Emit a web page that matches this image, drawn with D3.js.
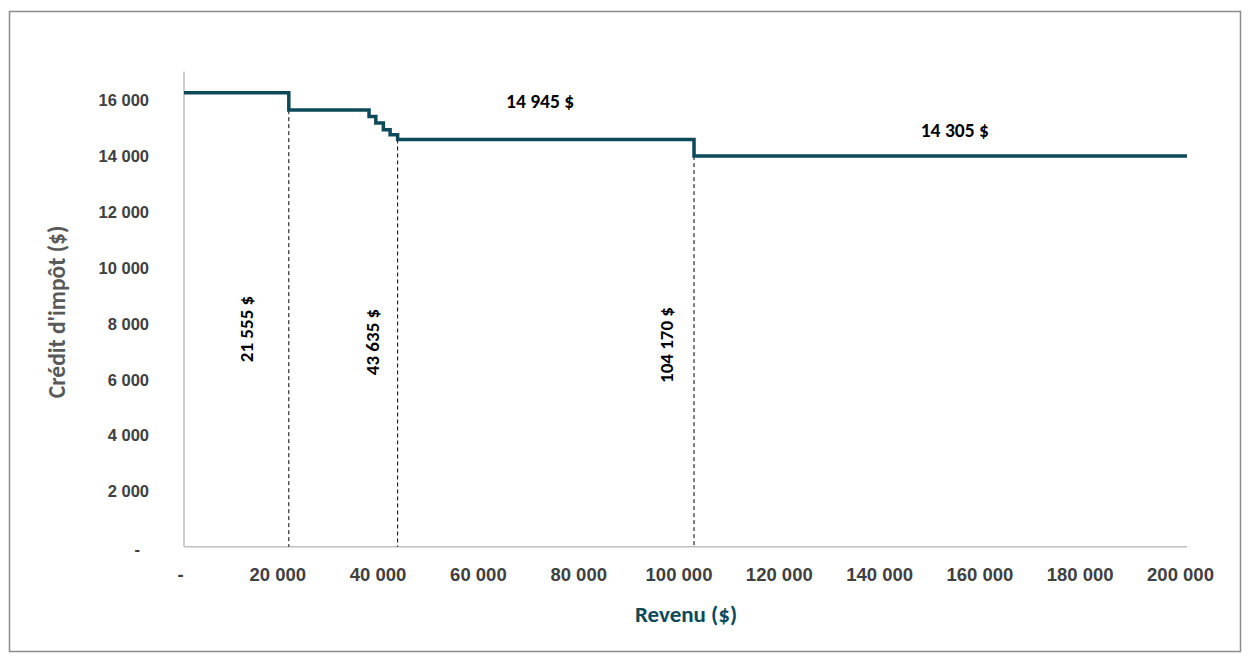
<!DOCTYPE html>
<html><head><meta charset="utf-8">
<script src="https://cdn.jsdelivr.net/npm/d3@7"></script>
<style>
html,body{margin:0;padding:0;background:#fff;}
svg{display:block;font-family:Calibri,Carlito,Lato,"Open Sans",sans-serif;}
</style></head>
<body>
<svg id="chart" width="1250" height="662"></svg>
<script>
// Data
const incomes = [0, 20900, 36900, 38250, 39750, 41100, 42600, 101700, 200000];
const credits = [16245, 15625, 15395, 15160, 14920, 14740, 14575, 13980, 13980];
const thresholdIncomes = [20900, 42600, 101700];
const thresholdLabels = ["21 555 $", "43 635 $", "104 170 $"];
const plateauLabels = ["14 945 $", "14 305 $"];
const plateauLabelX = [71000, 153700];
const plateauLabelY = [15960, 14910];
const xTicks = [0, 20000, 40000, 60000, 80000, 100000, 120000, 140000, 160000, 180000, 200000];
const yTicks = [0, 2000, 4000, 6000, 8000, 10000, 12000, 14000, 16000];

const svg = d3.select("#chart");
const fmt = v => v === 0 ? "-" : d3.format(",")(v).replace(/,/g, " ");

// Outer frame
svg.append("rect").attr("x", 9.5).attr("y", 11.5).attr("width", 1231).attr("height", 640)
  .attr("fill", "none").attr("stroke", "#8c8c8c").attr("stroke-width", 1.5);

const x = d3.scaleLinear().domain([0, 200000]).range([184, 1187]);
const y = d3.scaleLinear().domain([0, 17000]).range([546.7, 71.7]);

// Axes lines
svg.append("line").attr("x1", x(0)).attr("x2", x(0)).attr("y1", y(17000)).attr("y2", y(0))
  .attr("stroke", "#bfbfbf").attr("stroke-width", 1.5);
svg.append("line").attr("x1", x(0)).attr("x2", x(200000)).attr("y1", y(0)).attr("y2", y(0))
  .attr("stroke", "#bfbfbf").attr("stroke-width", 1.5);

// X tick labels
const xa = d3.axisBottom(x).tickValues(xTicks).tickFormat(fmt).tickSize(0).tickPadding(0);
const gx = svg.append("g").attr("transform", `translate(-7,${y(0) + 34})`).call(xa);
gx.select(".domain").remove();
gx.selectAll("text").attr("font-size", 18.5).attr("font-weight", "bold").attr("fill", "#404040")
  .attr("dy", "0");
gx.selectAll("text").filter(d => d === 0).attr("dx", 3);

// Y tick labels
const ya = d3.axisLeft(y).tickValues(yTicks).tickFormat(fmt).tickSize(0).tickPadding(0);
const gy = svg.append("g").attr("transform", `translate(149,0)`).call(ya);
gy.select(".domain").remove();
gy.selectAll("text").attr("font-size", 16.5).attr("font-weight", "bold").attr("fill", "#404040")
  .attr("dy", "0.36em");
gy.selectAll("text").filter(d => d === 0).attr("dx", -9).attr("dy", "0.45em");

// Dashed threshold lines
const stepVal = inc => { let v = credits[0]; incomes.forEach((xi, i) => { if (inc >= xi) v = credits[i]; }); return v; };
svg.selectAll("line.thr").data(thresholdIncomes).join("line").attr("class", "thr")
  .attr("x1", d => x(d)).attr("x2", d => x(d))
  .attr("y1", d => y(stepVal(d))).attr("y2", y(0))
  .attr("stroke", "#000").attr("stroke-width", 1).attr("stroke-dasharray", "4,3");

// Step line
const line = d3.line().x((d, i) => x(incomes[i])).y(d => y(d)).curve(d3.curveStepAfter);
svg.append("path").attr("d", line(credits)).attr("fill", "none")
  .attr("stroke", "#0c4a59").attr("stroke-width", 3.5);

// Threshold labels (rotated)
const thrOffsets = [-42, -25, -28];
const thrYc = [329, 342, 345];
svg.selectAll("text.thr").data(thresholdIncomes).join("text").attr("class", "thr")
  .attr("transform", (d, i) => `translate(${x(d) + thrOffsets[i]},${thrYc[i]}) rotate(-90)`)
  .attr("text-anchor", "middle").attr("dy", "0.35em")
  .attr("font-size", 19).attr("font-weight", "bold").attr("fill", "#000")
  .text((d, i) => thresholdLabels[i]);

// Plateau labels
svg.selectAll("text.pl").data(plateauLabels).join("text").attr("class", "pl")
  .attr("x", (d, i) => x(plateauLabelX[i])).attr("y", (d, i) => y(plateauLabelY[i]))
  .attr("text-anchor", "middle").attr("dy", "0.35em")
  .attr("font-size", 19.5).attr("font-weight", "bold").attr("fill", "#000")
  .text(d => d);

// Axis titles
svg.append("text").attr("x", 686).attr("y", 614).attr("text-anchor", "middle").attr("dy", "0.35em")
  .attr("font-size", 23).attr("font-weight", "bold").attr("fill", "#0c4a59").text("Revenu ($)");
svg.append("text").attr("transform", "translate(57,312) rotate(-90)").attr("text-anchor", "middle")
  .attr("dy", "0.35em").attr("font-size", 23.5).attr("font-weight", "bold").attr("fill", "#595959")
  .text("Crédit d'impôt ($)");
</script>
</body></html>
